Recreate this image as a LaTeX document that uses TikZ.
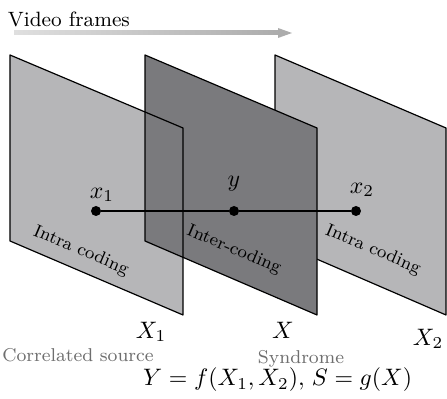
\RequirePackage{fix-cm}
\documentclass[tikz,border=0pt]{standalone}
\usepackage{amsmath}
\usepackage{fontspec}
\usepackage{tikz}
\usetikzlibrary{arrows.meta,positioning}

\definecolor{framelight}{RGB}{182,182,184}
\definecolor{framedark}{RGB}{122,122,125}
\definecolor{notegray}{RGB}{110,110,110}

\begin{document}
\begin{tikzpicture}[
  x=0.42pt, y=-0.42pt,
  every node/.style = {font=\fontsize{8.7}{10}\selectfont, inner sep=1pt},
  frameedge/.style  = {draw=black, line width=0.5pt, line join=round},
  dot/.style   = {circle, fill=black, inner sep=0pt, minimum size=4.2pt},
  coding/.style = {rotate=-23, font=\fontsize{7.5}{9}\selectfont},
  note/.style  = {text=notegray, font=\fontsize{7.8}{9}\selectfont},
  mlbl/.style  = {font=\fontsize{10}{12}\selectfont},
]
\useasboundingbox (0,0) rectangle (447,399);

%% ---------- ARROW: VIDEO FRAMES ----------
\node[anchor=west] (title) at (5,19) {Video frames};
\shade[left color=gray!25, right color=gray!65] (14,31) rectangle (280,35);
\fill[gray!65] (278,28) -- (292,33) -- (278,38) -- cycle;

%% ---------- FRAMES ----------
\fill[framelight] (275,55) -- (446,128) -- (446,315) -- (275,241) -- cycle;
\draw[frameedge]  (275,55) -- (446,128) -- (446,315) -- (275,241) -- cycle;

\fill[framelight] (10,55) -- (183,128) -- (183,315) -- (10,241) -- cycle;
\fill[framedark]  (145,55) -- (317,128) -- (317,315) -- (145,241) -- cycle;
\draw[frameedge]  (145,55) -- (317,128) -- (317,315) -- (145,241) -- cycle;
\draw[frameedge]  (10,55) -- (183,128) -- (183,315) -- (10,241) -- cycle;

\node[coding] (intra1) at (81,251)  {Intra coding};
\node[coding] (inter)  at (234,250) {Inter-coding};
\node[coding] (intra2) at (373,250) {Intra coding};

%% ---------- PIXELS ----------
\node[dot] (x1) at (96,211)  {};
\node[dot] (y)  at (234,211) {};
\node[dot] (x2) at (356,211) {};
\draw[line width=0.5pt] (x1) -- (y);
\draw[line width=0.5pt] (y) -- (x2);

\node[mlbl] (lx1) at (102,195) {$x_1$};
\node[mlbl] (ly)  at (234,184) {$y$};
\node[mlbl] (lx2) at (362,190) {$x_2$};

%% ---------- LABELS ----------
\node[mlbl] (X1) at (151,332) {$X_1$};
\node[mlbl] (X)  at (283,330) {$X$};
\node[mlbl] (X2) at (428,339) {$X_2$};

\node[note] (corr) at (78,355)  {Correlated source};
\node[note] (synd) at (301,359) {Syndrome};

\node[mlbl] (Yf) at (224,380) {$Y = f(X_1,X_2),$};
\node[mlbl] (Sg) at (362,380) {$S = g(X)$};

\end{tikzpicture}
\end{document}
